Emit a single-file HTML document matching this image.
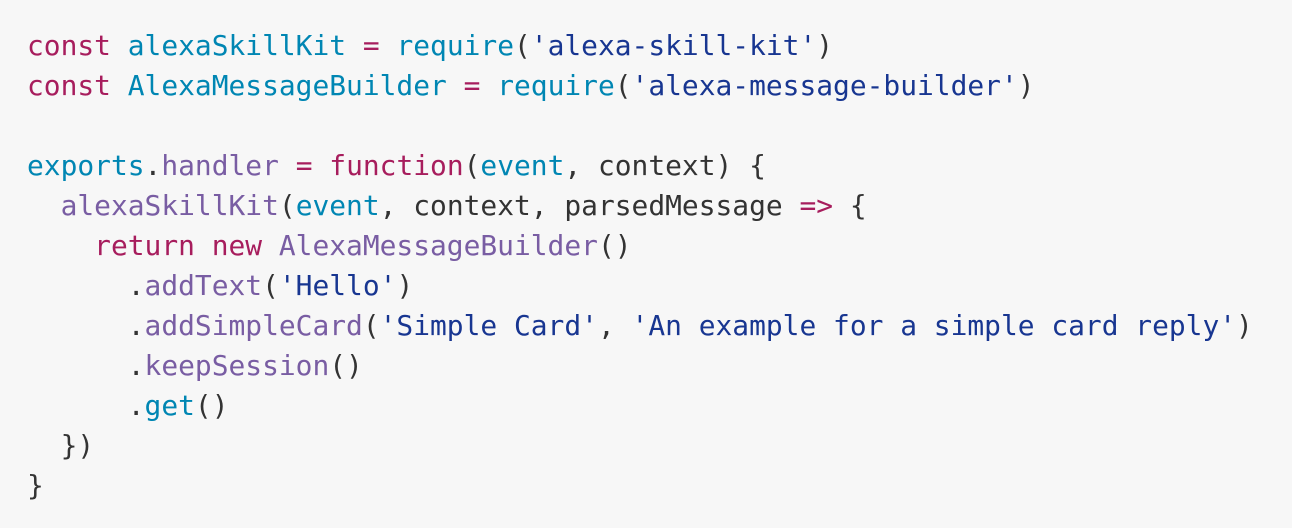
<!DOCTYPE html>
<html><head><meta charset="utf-8"><style>
html,body{margin:0;padding:0;background:#f7f7f7;width:1292px;height:528px;overflow:hidden}
pre{position:absolute;left:27px;top:26px;margin:0;font-family:"DejaVu Sans Mono","Liberation Mono",monospace;font-size:27.9px;line-height:40px;color:#333}
.k{color:#a71d5d}.b{color:#0086b3}.p{color:#795da3}.s{color:#183691}
</style></head><body>
<pre><span class="k">const</span> <span class="b">alexaSkillKit</span> <span class="k">=</span> <span class="b">require</span>(<span class="s">'alexa-skill-kit'</span>)
<span class="k">const</span> <span class="b">AlexaMessageBuilder</span> <span class="k">=</span> <span class="b">require</span>(<span class="s">'alexa-message-builder'</span>)

<span class="b">exports</span>.<span class="p">handler</span> <span class="k">=</span> <span class="k">function</span>(<span class="b">event</span>, context) {
  <span class="p">alexaSkillKit</span>(<span class="b">event</span>, context, parsedMessage <span class="k">=&gt;</span> {
    <span class="k">return</span> <span class="k">new</span> <span class="p">AlexaMessageBuilder</span>()
      .<span class="p">addText</span>(<span class="s">'Hello'</span>)
      .<span class="p">addSimpleCard</span>(<span class="s">'Simple Card'</span>, <span class="s">'An example for a simple card reply'</span>)
      .<span class="p">keepSession</span>()
      .<span class="b">get</span>()
  })
}</pre>
</body></html>
